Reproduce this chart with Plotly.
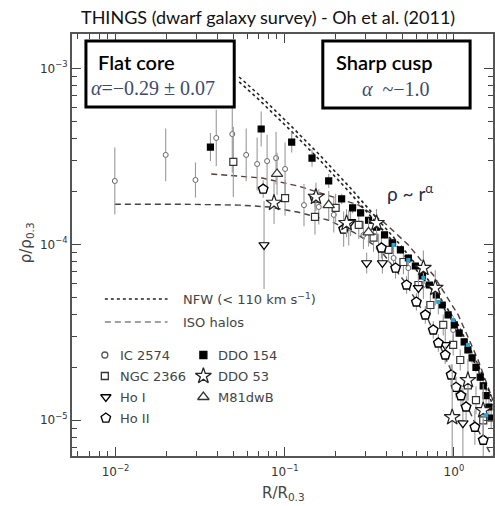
import plotly.graph_objects as go

# ---------------- data ----------------
# IC 2574 (small open circles)
ic2574_r = [0.00991, 0.0198, 0.0297, 0.0394, 0.0490, 0.0592, 0.0687, 0.0787, 0.0889, 0.1005,
            0.130, 0.159, 0.195, 0.239, 0.292, 0.359, 0.440, 0.538, 0.660, 0.809, 0.990]
ic2574_rho = [2.29e-4, 3.22e-4, 2.32e-4, 4.02e-4, 4.23e-4, 3.22e-4, 2.86e-4, 2.97e-4, 3.09e-4, 2.68e-4,
              1.67e-4, 1.63e-4, 1.47e-4, 1.24e-4, 1.13e-4, 9.53e-5, 8.36e-5, 7.33e-5, 5.87e-5, 4.82e-5, 3.26e-5]
ic2574_err = [0.19, 0.15, 0.10, 0.16, 0.22, 0.15, 0.15, 0.15, 0.15, 0.15,
              0.12, 0.10, 0.10, 0.10, 0.08, 0.08, 0.08, 0.08, 0.08, 0.08, 0.08]

# NGC 2366 (open squares)
ngc2366_r = [0.0497, 0.1005, 0.151, 0.200, 0.274, 0.335, 0.411, 0.503, 0.617, 0.726, 0.865, 0.990, 1.09, 1.21, 1.35, 1.49]
ngc2366_rho = [2.94e-4, 1.83e-4, 1.43e-4, 1.61e-4, 1.29e-4, 1.09e-4, 9.29e-5, 7.93e-5, 5.87e-5, 4.52e-5,
               3.48e-5, 2.68e-5, 2.20e-5, 1.58e-5, 1.30e-5, 1.00e-5]
ngc2366_err = [0.20, 0.10, 0.10, 0.08, 0.08, 0.08, 0.07, 0.07, 0.07, 0.06, 0.06, 0.06, 0.06, 0.08, 0.08, 0.10]

# Ho I (open down-triangles)
hoi_r = [0.0755, 0.245, 0.305, 0.378, 0.617, 0.889, 1.13]
hoi_rho = [9.91e-5, 1.34e-4, 7.83e-5, 7.83e-5, 5.65e-5, 2.68e-5, 9.63e-6]
hoi_err = [0.25, 0.08, 0.06, 0.06, 0.08, 0.10, 0.20]

# Ho II (open pentagons)
hoii_r = [0.0746, 0.151, 0.223, 0.373, 0.452, 0.525, 0.600, 0.678, 0.755, 0.809, 0.889, 0.963,
          1.03, 1.10, 1.18, 1.33, 1.49]
hoii_rho = [2.06e-4, 1.83e-4, 1.22e-4, 9.53e-5, 7.33e-5, 5.87e-5, 4.70e-5, 3.97e-5, 3.26e-5, 2.75e-5,
            2.35e-5, 1.81e-5, 1.54e-5, 1.38e-5, 1.19e-5, 9.14e-6, 7.71e-6]
hoii_err = [0.05, 0.05, 0.10, 0.06, 0.06, 0.05, 0.05, 0.05, 0.05, 0.05, 0.05, 0.06, 0.06, 0.06, 0.08, 0.10, 0.12]

# DDO 154 (filled squares)
ddo154_r = [0.0364, 0.0726, 0.110, 0.145, 0.182, 0.217, 0.252, 0.281, 0.313, 0.349, 0.389, 0.434, 0.483,
            0.538, 0.592, 0.652, 0.716, 0.787, 0.853, 0.924, 1.005, 1.074, 1.15, 1.21, 1.28, 1.35, 1.43,
            1.49, 1.55, 1.61, 1.66]
ddo154_rho = [3.57e-4, 4.52e-4, 3.81e-4, 3.09e-4, 2.29e-4, 1.81e-4, 1.61e-4, 1.51e-4, 1.37e-4, 1.25e-4,
              1.13e-4, 1.02e-4, 9.29e-5, 8.36e-5, 7.53e-5, 6.61e-5, 5.87e-5, 5.15e-5, 4.52e-5, 3.97e-5,
              3.48e-5, 3.13e-5, 2.79e-5, 2.51e-5, 2.26e-5, 2.00e-5, 1.76e-5, 1.57e-5, 1.38e-5, 1.19e-5, 1.03e-5]
ddo154_err = [0.08, 0.10, 0.06, 0.05, 0.04, 0.03, 0.03, 0.02, 0.02, 0.02, 0.02, 0.02, 0.02, 0.02, 0.02,
              0.02, 0.02, 0.02, 0.02, 0.02, 0.02, 0.02, 0.02, 0.02, 0.03, 0.03, 0.03, 0.04, 0.04, 0.05, 0.06]

# DDO 53 (open stars)
ddo53_r = [0.0865, 0.153, 0.232, 0.349, 0.660, 0.776, 0.977, 1.21, 1.49]
ddo53_rho = [1.72e-4, 1.86e-4, 1.32e-4, 1.32e-4, 7.33e-5, 5.65e-5, 1.04e-5, 1.69e-5, 1.14e-5]
ddo53_err = [0.12, 0.08, 0.08, 0.08, 0.10, 0.10, 0.30, 0.12, 0.15]

# M81dwB (open up-triangles)
m81dwb_r = [0.0901, 0.182, 0.313]
m81dwb_rho = [2.51e-4, 1.67e-4, 1.17e-4]
m81dwb_err = [0.12, 0.08, 0.08]

# highlighted (cyan) points in the dense outer sequence
cyan_r = [0.440, 0.538, 0.660, 0.809, 0.990, 1.21, 1.55]
cyan_rho = [9.91e-5, 8.15e-5, 6.44e-5, 4.70e-5, 3.71e-5, 2.68e-5, 1.07e-5]

# model curves
nfw_r = [0.0538, 0.0707, 0.106, 0.159, 0.239, 0.335, 0.470, 0.706, 1.06, 1.39, 1.70]
nfw_rho_a = [8.93e-4, 7.05e-4, 4.83e-4, 3.26e-4, 2.14e-4, 1.47e-4, 1.02e-4, 6.27e-5, 3.48e-5, 2.06e-5, 1.30e-5]
nfw_rho_b = [8.37e-4, 6.61e-4, 4.53e-4, 3.05e-4, 2.00e-4, 1.38e-4, 9.56e-5, 5.88e-5, 3.26e-5, 1.93e-5, 1.22e-5]

iso1_r = [0.00991, 0.0239, 0.0538, 0.0809, 0.121, 0.182, 0.256, 0.359, 0.503, 0.706, 0.990, 1.39, 1.72]
iso1_rho = [1.69e-4, 1.69e-4, 1.67e-4, 1.63e-4, 1.52e-4, 1.37e-4, 1.17e-4, 9.53e-5, 6.27e-5, 3.71e-5, 1.81e-5, 8.79e-6, 5.94e-6]
iso2_r = [0.0368, 0.0538, 0.0734, 0.121, 0.182, 0.274, 0.384, 0.538, 0.755, 1.06, 1.39, 1.70]
iso2_rho = [2.51e-4, 2.44e-4, 2.38e-4, 2.14e-4, 1.90e-4, 1.67e-4, 1.34e-4, 9.91e-5, 6.69e-5, 3.97e-5, 2.20e-5, 1.30e-5]

# axes
x_tick_vals = [0.01, 0.1, 1]
x_tick_text = ["10<sup>−2</sup>", "10<sup>−1</sup>", "10<sup>0</sup>"]
y_tick_vals = [1e-5, 1e-4, 1e-3]
y_tick_text = ["10<sup>−5</sup>", "10<sup>−4</sup>", "10<sup>−3</sup>"]

legend_galaxies = ["IC 2574", "NGC 2366", "Ho I", "Ho II", "DDO 154", "DDO 53", "M81dwB"]

# ---------------- figure ----------------
W, H = 495, 506
L, R, T, B = 72, 0, 34, 50
PW, PH = W - L - R, H - T - B


def px(x):
    return (x - L) / PW


def py(y):
    return (H - B - y) / PH


def errs(vals, dex):
    up = [v * (10 ** d - 1) for v, d in zip(vals, dex)]
    dn = [v * (1 - 10 ** (-d)) for v, d in zip(vals, dex)]
    return dict(type="data", symmetric=False, array=up, arrayminus=dn,
                color="#999999", thickness=1.1, width=0)


fig = go.Figure()

# model curves
fig.add_trace(go.Scatter(x=iso1_r, y=iso1_rho, mode="lines", line=dict(color="#444", width=1.4, dash="6px,4px"),
                         hoverinfo="skip"))
fig.add_trace(go.Scatter(x=iso2_r, y=iso2_rho, mode="lines", line=dict(color="#5a3a3a", width=1.4, dash="6px,4px"),
                         hoverinfo="skip"))
fig.add_trace(go.Scatter(x=nfw_r, y=nfw_rho_a, mode="lines", line=dict(color="#222", width=1.6, dash="dot"),
                         hoverinfo="skip"))
fig.add_trace(go.Scatter(x=nfw_r, y=nfw_rho_b, mode="lines", line=dict(color="#222", width=1.6, dash="dot"),
                         hoverinfo="skip"))


def add_gal(r, rho, err, symbol, size, fill="white", lw=1.2, lc="black"):
    fig.add_trace(go.Scatter(
        x=r, y=rho, mode="markers", error_y=errs(rho, err),
        marker=dict(symbol=symbol, size=size, color=fill, line=dict(color=lc, width=lw))))


add_gal(ic2574_r, ic2574_rho, ic2574_err, "circle", 5, lc="#666", lw=1)
add_gal(ngc2366_r, ngc2366_rho, ngc2366_err, "square", 7, lc="#333")
add_gal(hoi_r, hoi_rho, hoi_err, "triangle-down", 9)
add_gal(hoii_r, hoii_rho, hoii_err, "pentagon", 10, lw=1.4)
add_gal(ddo154_r, ddo154_rho, ddo154_err, "square", 6, fill="black")
add_gal(ddo53_r, ddo53_rho, ddo53_err, "star", 12, lw=1.2, lc="#222")
add_gal(m81dwb_r, m81dwb_rho, m81dwb_err, "triangle-up", 10, lc="#333")
fig.add_trace(go.Scatter(x=cyan_r, y=cyan_rho, mode="markers",
                         marker=dict(symbol="square", size=4, color="#2aa7d6")))

# legend drawn on an overlay axis (0..1 = plot area)
leg_lx = [px(105), px(168)]
fig.add_trace(go.Scatter(x=leg_lx, y=[py(299)] * 2, xaxis="x2", yaxis="y2", mode="lines",
                         line=dict(color="#222", width=1.6, dash="dot")))
fig.add_trace(go.Scatter(x=leg_lx, y=[py(322)] * 2, xaxis="x2", yaxis="y2", mode="lines",
                         line=dict(color="#444", width=1.2, dash="6px,4px")))
leg_sym = [("circle", 6, "white", "#555", 105, 355), ("square", 7, "white", "#333", 105, 376),
           ("triangle-down", 9, "white", "black", 106, 397), ("pentagon", 10, "white", "black", 106, 418),
           ("square", 7, "black", "black", 204, 355), ("star", 12, "white", "#222", 204, 376),
           ("triangle-up", 10, "white", "#333", 204, 397)]
for sym, sz, fc, lc, sx, sy in leg_sym:
    fig.add_trace(go.Scatter(x=[px(sx)], y=[py(sy)], xaxis="x2", yaxis="y2", mode="markers",
                             marker=dict(symbol=sym, size=sz, color=fc, line=dict(color=lc, width=1.3))))

tickfont = dict(family="DejaVu Sans", size=12, color="#333")
axis_common = dict(type="log", showgrid=False, zeroline=False, ticks="inside", ticklen=9, tickwidth=1.3,
                   tickcolor="#444", showline=True, linecolor="#555", linewidth=2, mirror="allticks",
                   tickfont=tickfont)

x_minor = [m * 10 ** e for e in (-3, -2, -1, 0) for m in range(2, 10)]
y_minor = [m * 10 ** e for e in (-6, -5, -4, -3) for m in range(2, 10)]

fig.update_layout(
    width=W, height=H, margin=dict(l=L, r=R, t=T, b=B),
    paper_bgcolor="white", plot_bgcolor="white", showlegend=False,
    xaxis=dict(range=[-2.257, 0.231], tickvals=x_tick_vals, ticktext=x_tick_text, ticklabelstandoff=4,
               minor=dict(tickvals=x_minor, ticks="inside", ticklen=5, tickcolor="#444", showgrid=False),
               **axis_common),
    yaxis=dict(range=[-5.203, -2.805], tickvals=y_tick_vals, ticktext=y_tick_text,
               minor=dict(tickvals=y_minor, ticks="inside", ticklen=5, tickcolor="#444", showgrid=False),
               **axis_common),
    xaxis2=dict(overlaying="x", range=[0, 1], visible=False),
    yaxis2=dict(overlaying="y", range=[0, 1], visible=False),
)

# boxes
box_line = dict(color="black", width=3)
fig.add_shape(type="rect", xref="paper", yref="paper", x0=px(86), x1=px(235), y0=py(107), y1=py(41),
              line=box_line, fillcolor="white", layer="above")
fig.add_shape(type="rect", xref="paper", yref="paper", x0=px(324), x1=px(472), y0=py(108), y1=py(41),
              line=box_line, fillcolor="white", layer="above")

sans = "Lato"
ann = [
    dict(x=px(269), y=py(17), text="THINGS (dwarf galaxy survey) - Oh et al. (2011)", xanchor="center",
         font=dict(family=sans, size=18, color="#111")),
    dict(x=px(96), y=py(62), text="Flat core", xanchor="left",
         font=dict(family=sans, size=20, color="#000", weight=600)),
    dict(x=px(89), y=py(88), text="<i>α</i>=−0.29 ± 0.07", xanchor="left",
         font=dict(family="Liberation Serif", size=20, color="#3d4a6e")),
    dict(x=px(335), y=py(62), text="Sharp cusp", xanchor="left",
         font=dict(family=sans, size=20, color="#000", weight=600)),
    dict(x=px(361), y=py(89), text="<i>α</i>  ~−1.0", xanchor="left",
         font=dict(family="Liberation Serif", size=20, color="#3d4a6e")),
    dict(x=px(386), y=py(192), text="ρ ~ r<sup>α</sup>", xanchor="left",
         font=dict(family=sans, size=19, color="#1f2d4d")),
    dict(x=px(285), y=py(494), text="R/R<sub>0.3</sub>", xanchor="center",
         font=dict(family="DejaVu Sans", size=15, color="#444")),
    dict(x=px(27), y=py(243), text="ρ/ρ<sub>0.3</sub>", xanchor="center", textangle=-90,
         font=dict(family="DejaVu Sans", size=15, color="#444")),
    dict(x=px(182), y=py(299), text="NFW (< 110 km s<sup>−1</sup>)", xanchor="left",
         font=dict(family="DejaVu Sans", size=13, color="#444")),
    dict(x=px(182), y=py(322), text="ISO halos", xanchor="left",
         font=dict(family="DejaVu Sans", size=13, color="#444")),
]
leg_pos = [(118, 355), (118, 376), (118, 397), (118, 418), (217, 355), (217, 376), (217, 397)]
for name, (tx, ty) in zip(legend_galaxies, leg_pos):
    ann.append(dict(x=px(tx), y=py(ty), text=name, xanchor="left",
                    font=dict(family="DejaVu Sans", size=13, color="#444")))
for a in ann:
    a.update(xref="paper", yref="paper", showarrow=False, yanchor="middle")
fig.update_layout(annotations=ann)

fig.write_html("out.html")
